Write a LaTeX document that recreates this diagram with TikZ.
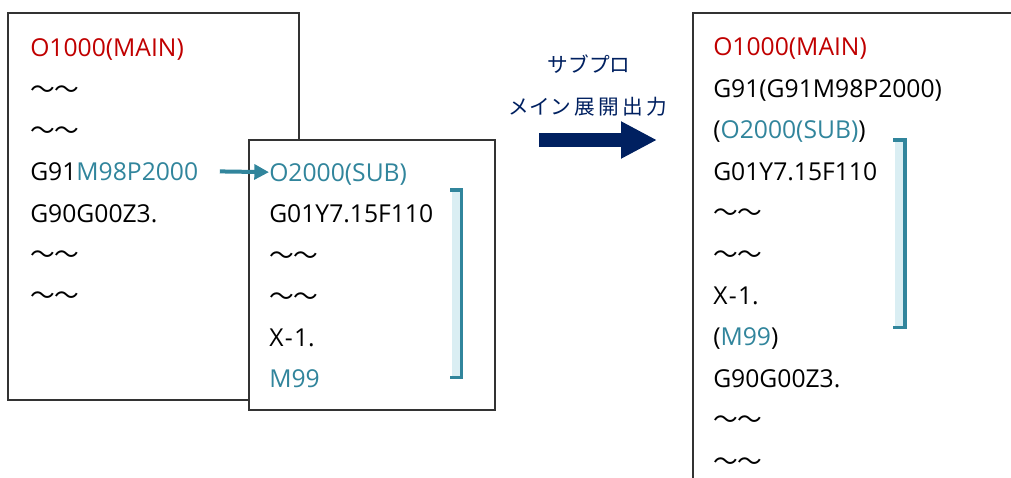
\documentclass[tikz,border=0pt]{standalone}
\usepackage{fontspec}
\setmainfont{Open Sans}
\newfontfamily\jpfont{Noto Sans CJK JP}
\usetikzlibrary{arrows.meta}

\definecolor{progred}{RGB}{192,0,0}
\definecolor{subteal}{RGB}{49,133,156}
\definecolor{navyarrow}{RGB}{0,32,96}
\definecolor{bracketfill}{RGB}{218,238,243}

\tikzset{
    codeline/.style={anchor=base west, inner sep=0pt, text height=14pt, text depth=0pt,
        font=\fontsize{18.5}{22}\selectfont},
    boxline/.style={draw=black!80, line width=0.9pt},
    bracketline/.style={draw=subteal, line width=2.6pt, line cap=rect},
    callarrow/.style={draw=subteal, line width=3pt, -{Triangle[length=11pt,width=11pt]}},
    expandarrow/.style={draw=navyarrow, line width=9.75pt, -{Triangle[length=27pt,width=26pt]}},
    note/.style={font=\jpfont\fontsize{15.5}{18}\selectfont, text=navyarrow, inner sep=0pt}
}

\begin{document}
\begin{tikzpicture}[x=0.75pt,y=-0.75pt]
\useasboundingbox (0,0) rectangle (1011,478);

% Main program
\draw[boxline] (8,13) rectangle (299,400);
\foreach \i/\code in {
    0/{\color{progred}O1000(MAIN)},
    1/{\jpfont 〜〜},
    2/{\jpfont 〜〜},
    3/{G91\color{subteal}M98P2000},
    4/{G90G00Z3.},
    5/{\jpfont 〜〜},
    6/{\jpfont 〜〜}
} {
    \node[codeline] (main\i) at (30,57+41.25*\i) {\code};
}

% Sub program
\draw[boxline, fill=white] (249,140) rectangle (495,410);
\foreach \i/\code in {
    0/{\color{subteal}O2000(SUB)},
    1/{G01Y7.15F110},
    2/{\jpfont 〜〜},
    3/{\jpfont 〜〜},
    4/{X\kern1pt-\kern1pt1.},
    5/{\color{subteal}M99}
} {
    \node[codeline] (sub\i) at (269,181.5+41.25*\i) {\code};
}
\fill[bracketfill] (452,190) rectangle (461.5,377.5);
\draw[bracketline] (452,190) -- (461.5,190) -- (461.5,377.5) -- (452,377.5);

\draw[callarrow] ([xshift=16pt]main3.east) -- (sub0.west);

% Expansion
\node[note] (title1) at (589,64) {サブプロ};
\node[note] (title2) at (588,107) {メイン\,展\,開\,出\,力};
\coordinate (expstart) at (539,140);
\coordinate (expend) at (657,140);
\draw[expandarrow] (expstart) -- (expend);

% Expanded program
\draw[boxline] (1020,13) -- (693,13) -- (693,490);
\foreach \i/\code in {
    0/{\color{progred}O1000(MAIN)},
    1/{G91(G91M98P2000)},
    2/{({\color{subteal}O2000(SUB)})},
    3/{G01Y7.15F110},
    4/{\jpfont 〜〜},
    5/{\jpfont 〜〜},
    6/{X\kern1pt-\kern1pt1.},
    7/{({\color{subteal}M99})},
    8/{G90G00Z3.},
    9/{\jpfont 〜〜},
    10/{\jpfont 〜〜}
} {
    \node[codeline] (exp\i) at (713,56+41.4*\i) {\code};
}
\fill[bracketfill] (895,140) rectangle (905,327.5);
\draw[bracketline] (895,140) -- (905,140) -- (905,327.5) -- (895,327.5);
\end{tikzpicture}
\end{document}
